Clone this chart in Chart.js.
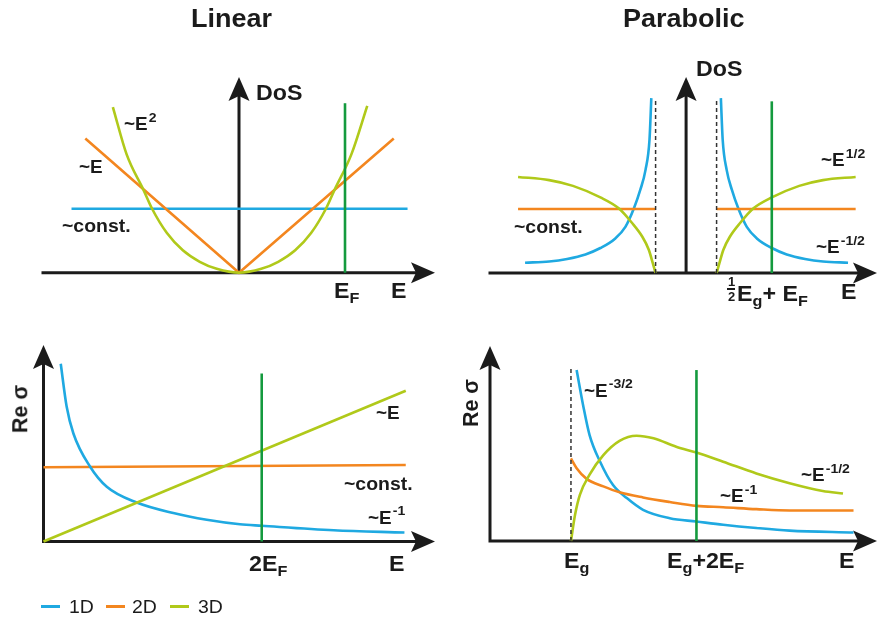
<!DOCTYPE html>
<html>
<head>
<meta charset="utf-8">
<script src="https://cdn.jsdelivr.net/npm/chart.js@4.4.0/dist/chart.umd.min.js"></script>
<style>
  body { margin: 0; background: #fff; }
  #wrap { position: relative; width: 878px; height: 623px; overflow: hidden; }
  canvas { position: absolute; }
  .t { position: absolute; font-family: 'Liberation Sans', Arial, sans-serif; font-weight: bold; line-height: 1;
       color: #1b1b1b; white-space: nowrap; transform: scaleX(1.08); transform-origin: 0 0; }
  .title { font-size: 25px; }
  .ax { font-size: 21.5px; }
  .an { font-size: 17.5px; }
  .cn { font-size: 18px; }
  .t sup { font-size: 13px; position: relative; top: -8.5px; vertical-align: baseline; line-height: 0; margin-left: 1px; }
  .t sub { font-size: 15px; position: relative; top: 5px; vertical-align: baseline; line-height: 0; }
  .rot { transform: translate(-50%, -50%) rotate(-90deg); transform-origin: 50% 50%; }
  .leg { font-weight: normal; font-size: 18px; }
  .sw { position: absolute; height: 3px; }
  .fb { position: absolute; height: 1.5px; background: #1b1b1b; }
</style>
</head>
<body>
<div id="wrap">
  <canvas id="linDos" width="439" height="311" style="left:0;top:0"></canvas>
  <canvas id="parDos" width="439" height="311" style="left:439px;top:0"></canvas>
  <canvas id="linSig" width="439" height="312" style="left:0;top:311px"></canvas>
  <canvas id="parSig" width="439" height="312" style="left:439px;top:311px"></canvas>

  <!-- top left -->
  <div class="t title" style="left:191px;top:5.5px">Linear</div>
  <div class="t ax" style="left:255.5px;top:82.5px">DoS</div>
  <div class="t an" style="left:124px;top:116px">~E<sup>2</sup></div>
  <div class="t an" style="left:79px;top:159px">~E</div>
  <div class="t cn" style="left:62px;top:216.5px">~const.</div>
  <div class="t ax" style="left:334px;top:281.3px">E<sub>F</sub></div>
  <div class="t ax" style="left:391px;top:281.3px">E</div>

  <!-- top right -->
  <div class="t title" style="left:623px;top:6px">Parabolic</div>
  <div class="t ax" style="left:696px;top:59px">DoS</div>
  <div class="t an" style="left:820.5px;top:152px">~E<sup>1/2</sup></div>
  <div class="t cn" style="left:514px;top:218px">~const.</div>
  <div class="t an" style="left:815.5px;top:239px">~E<sup>-1/2</sup></div>
  <div class="t" style="left:727.5px;top:276.3px;font-size:12px">1</div>
  <div class="fb" style="left:727px;top:288px;width:8px"></div>
  <div class="t" style="left:727.5px;top:291.3px;font-size:12px">2</div>
  <div class="t ax" style="left:737px;top:283.5px">E<sub>g</sub>+ E<sub>F</sub></div>
  <div class="t ax" style="left:840.5px;top:281.8px">E</div>

  <!-- bottom left -->
  <div class="t ax rot" style="left:20.5px;top:409px">Re σ</div>
  <div class="t an" style="left:376px;top:405px">~E</div>
  <div class="t cn" style="left:344px;top:475px">~const.</div>
  <div class="t an" style="left:367.5px;top:509.5px">~E<sup>-1</sup></div>
  <div class="t ax" style="left:249px;top:553.5px">2E<sub>F</sub></div>
  <div class="t ax" style="left:389px;top:553.5px">E</div>

  <!-- bottom right -->
  <div class="t ax rot" style="left:472px;top:402.5px">Re σ</div>
  <div class="t an" style="left:584px;top:382.5px">~E<sup>-3/2</sup></div>
  <div class="t an" style="left:720px;top:488px">~E<sup>-1</sup></div>
  <div class="t an" style="left:800.5px;top:467px">~E<sup>-1/2</sup></div>
  <div class="t ax" style="left:564px;top:551px">E<sub>g</sub></div>
  <div class="t ax" style="left:666.5px;top:551px">E<sub>g</sub>+2E<sub>F</sub></div>
  <div class="t ax" style="left:839px;top:551px">E</div>

  <!-- legend -->
  <div id="legend"></div>
</div>
<script>
// colours
const blue = '#1fa9e1';
const orange = '#f3861f';
const lime = '#b0c91a';
const fermiGreen = '#149a3e';
const ink = '#1b1b1b';

const seriesNames = ['1D', '2D', '3D'];
const seriesColors = [blue, orange, lime];

// top left: linear dispersion, DoS (E in units of E_F)
const linE1D = [-1.58, 1.59];
const linDos1D = [1.0, 1.0];
const linE2D = [-1.45, 0, 1.46];
const linDos2D = [2.1, 0, 2.1];
const linE3D = [-1.19, -1.06, -0.90, -0.82, -0.68, -0.53, -0.37, -0.21, 0, 0.21, 0.37, 0.53, 0.68, 0.82, 0.90, 1.06, 1.21];
const linDos3D = [2.59, 1.85, 1.29, 1.0, 0.62, 0.35, 0.17, 0.06, 0, 0.06, 0.17, 0.35, 0.62, 1.0, 1.29, 1.85, 2.61];
const linFermiE = [1, 1];
const linFermiDos = [0, 2.65];

// top right: parabolic dispersion, DoS (E in units of Eg/2)
const parE1DLeft = [-5.28, -4.49, -3.9, -3.3, -2.81, -2.32, -1.99, -1.71, -1.50, -1.33, -1.20, -1.14];
const parDos1DLeft = [0.16, 0.18, 0.22, 0.29, 0.39, 0.54, 0.72, 1.01, 1.30, 1.61, 2.08, 2.73];
const parE1DRight = [1.14, 1.20, 1.33, 1.50, 1.71, 1.99, 2.32, 2.81, 3.3, 3.9, 4.49, 5.31];
const parDos1DRight = [2.73, 2.08, 1.61, 1.30, 1.01, 0.72, 0.54, 0.39, 0.29, 0.22, 0.18, 0.16];
const parE2DLeft = [-5.51, -1.0];
const parE2DRight = [1.0, 5.56];
const parDos2D = [1.0, 1.0];
const parE3DLeft = [-5.51, -4.49, -3.71, -2.81, -2.21, -1.77, -1.44, -1.22, -1.09, -1.0];
const parDos3DLeft = [1.50, 1.45, 1.36, 1.18, 1.01, 0.78, 0.57, 0.36, 0.15, 0];
const parE3DRight = [1.0, 1.09, 1.22, 1.44, 1.77, 2.21, 2.81, 3.71, 4.49, 5.56];
const parDos3DRight = [0, 0.15, 0.36, 0.57, 0.78, 1.01, 1.18, 1.36, 1.45, 1.50];
const parGapE = [-1.0, 1.0];
const parGapDos = [0, 2.70];
const parFermiE = [2.81, 2.81];
const parFermiDos = [0, 2.68];

// bottom left: linear dispersion, Re sigma (E in units of 2E_F)
const optLinE1D = [0.079, 0.106, 0.137, 0.213, 0.29, 0.427, 0.595, 0.748, 0.90, 1.0, 1.33, 1.654];
const optLin1D = [2.37, 1.80, 1.44, 1.0, 0.73, 0.52, 0.38, 0.29, 0.23, 0.21, 0.15, 0.12];
const optLinE2D = [0, 1.66];
const optLin2D = [0.99, 1.02];
const optLinE3D = [0, 1.66];
const optLin3D = [0, 2.01];
const optLinFermiE = [1, 1];
const optLinFermi = [0, 2.24];

// bottom right: parabolic dispersion, Re sigma (E in units of Eg)
const optParE1D = [1.07, 1.15, 1.23, 1.36, 1.52, 1.69, 1.89, 2.22, 2.55, 2.88, 3.29, 3.70, 4.49];
const optPar1D = [2.63, 2.09, 1.63, 1.22, 0.86, 0.66, 0.48, 0.35, 0.30, 0.25, 0.20, 0.16, 0.13];
const optParE2D = [1.0, 1.07, 1.19, 1.40, 1.60, 1.89, 2.22, 2.55, 2.88, 3.29, 3.70, 4.49];
const optPar2D = [1.27, 1.12, 0.96, 0.84, 0.75, 0.67, 0.60, 0.54, 0.52, 0.49, 0.47, 0.47];
const optParE3D = [1.0, 1.05, 1.11, 1.23, 1.40, 1.60, 1.81, 2.02, 2.30, 2.55, 2.88, 3.29, 3.70, 4.11, 4.36];
const optPar3D = [0, 0.40, 0.71, 1.02, 1.32, 1.54, 1.62, 1.58, 1.45, 1.36, 1.22, 1.04, 0.89, 0.77, 0.73];
const optParGapE = [1, 1];
const optParGap = [0, 2.66];
const optParFermiE = [2.55, 2.55];
const optParFermi = [0, 2.63];

// draws the two axes with arrow heads at value 0
function arrowHead(ctx, tx, ty, dir) {
  const L = 24, H = 10.5, N = 5;
  ctx.beginPath();
  if (dir === 'right') {
    ctx.moveTo(tx, ty); ctx.lineTo(tx - L, ty - H); ctx.lineTo(tx - L + N, ty); ctx.lineTo(tx - L, ty + H);
  } else {
    ctx.moveTo(tx, ty); ctx.lineTo(tx - H, ty + L); ctx.lineTo(tx, ty + L - N); ctx.lineTo(tx + H, ty + L);
  }
  ctx.closePath();
  ctx.fill();
}

const axesArrows = {
  id: 'axesArrows',
  beforeDatasetsDraw(chart) {
    const { ctx, chartArea: a, scales: { x, y } } = chart;
    const x0 = x.getPixelForValue(0);
    const y0 = y.getPixelForValue(0);
    ctx.save();
    ctx.strokeStyle = ink;
    ctx.fillStyle = ink;
    ctx.lineWidth = 3;
    ctx.beginPath();
    ctx.moveTo(a.left - 1.5, y0);
    ctx.lineTo(a.right - 15, y0);
    ctx.moveTo(x0, y0 + 1.5);
    ctx.lineTo(x0, a.top + 15);
    ctx.stroke();
    arrowHead(ctx, a.right, y0, 'right');
    arrowHead(ctx, x0, a.top, 'up');
    ctx.restore();
  }
};

function curve(xs, ys, color, extra) {
  return Object.assign({
    data: xs.map((v, i) => ({ x: v, y: ys[i] })),
    showLine: true,
    borderColor: color,
    borderWidth: 2.6,
    pointRadius: 0,
    fill: false,
    clip: false,
    tension: 0
  }, extra);
}
const smooth = { cubicInterpolationMode: 'monotone', tension: 0.4 };
const dashed = { borderColor: '#333', borderWidth: 1.5, borderDash: [4, 3] };

function makeChart(id, xMin, xMax, yMax, pad, datasets) {
  return new Chart(document.getElementById(id), {
    type: 'scatter',
    data: { datasets },
    options: {
      responsive: false,
      animation: false,
      layout: { padding: pad },
      plugins: { legend: { display: false }, tooltip: { enabled: false } },
      scales: {
        x: { type: 'linear', min: xMin, max: xMax, display: false },
        y: { type: 'linear', min: 0, max: yMax, display: false }
      }
    },
    plugins: [axesArrows]
  });
}

// first dataset ends up on top
makeChart('linDos', -1.849, 1.849, 3.06, { left: 43, top: 77, right: 4, bottom: 38.3 }, [
  curve(linFermiE, linFermiDos, fermiGreen),
  curve(linE3D, linDos3D, lime, smooth),
  curve(linE2D, linDos2D, orange),
  curve(linE1D, linDos1D, blue)
]);

makeChart('parDos', -6.43, 6.26, 3.06, { left: 51, top: 77, right: 1, bottom: 38 }, [
  curve(parFermiE, parFermiDos, fermiGreen),
  curve([parGapE[0], parGapE[0]], parGapDos, null, dashed),
  curve([parGapE[1], parGapE[1]], parGapDos, null, dashed),
  curve(parE3DLeft, parDos3DLeft, lime, smooth),
  curve(parE3DRight, parDos3DRight, lime, smooth),
  curve(parE2DLeft, parDos2D, orange),
  curve(parE2DRight, parDos2D, orange),
  curve(parE1DLeft, parDos1DLeft, blue, smooth),
  curve(parE1DRight, parDos1DRight, blue, smooth)
]);

makeChart('linSig', 0, 1.794, 2.62, { left: 43.5, top: 34, right: 4, bottom: 81.5 }, [
  curve(optLinFermiE, optLinFermi, fermiGreen),
  curve(optLinE3D, optLin3D, lime),
  curve(optLinE1D, optLin1D, blue, smooth),
  curve(optLinE2D, optLin2D, orange)
]);

makeChart('parSig', 0, 4.78, 3.0, { left: 51, top: 35, right: 1, bottom: 82 }, [
  curve(optParFermiE, optParFermi, fermiGreen),
  curve(optParGapE, optParGap, null, dashed),
  curve(optParE3D, optPar3D, lime, smooth),
  curve(optParE2D, optPar2D, orange, smooth),
  curve(optParE1D, optPar1D, blue, smooth)
]);

// legend under the bottom left panel
const legend = document.getElementById('legend');
const swatchLeft = [40.7, 106, 170];
const textLeft = [68.5, 132, 197.5];
seriesNames.forEach((name, i) => {
  const sw = document.createElement('div');
  sw.className = 'sw';
  sw.style.cssText = `left:${swatchLeft[i]}px;top:605.2px;width:19px;background:${seriesColors[i]}`;
  legend.appendChild(sw);
  const tx = document.createElement('div');
  tx.className = 't leg';
  tx.style.cssText = `left:${textLeft[i]}px;top:598px`;
  tx.textContent = name;
  legend.appendChild(tx);
});
</script>
</body>
</html>
